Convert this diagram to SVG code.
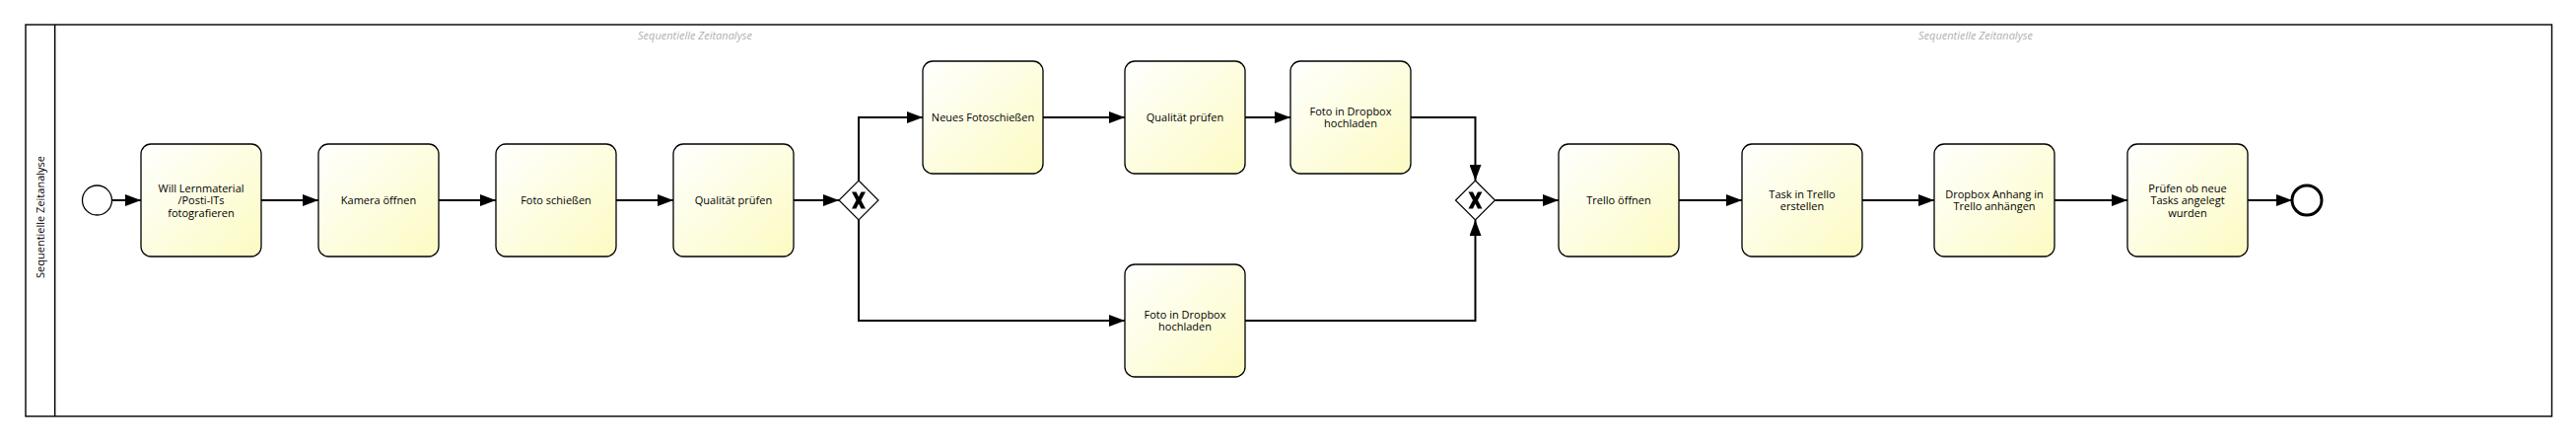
<svg xmlns="http://www.w3.org/2000/svg" width="2613" height="447" viewBox="0 0 2613 447">
<style>
.pool{fill:#ffffff;stroke:#000;stroke-width:1.4}
.task{fill:url(#tg);stroke:#000;stroke-width:1.3}
.lbl{font-family:"Open Sans","DejaVu Sans",sans-serif;font-size:11px;fill:#000;text-anchor:middle}
.hdr{font-family:"Open Sans","DejaVu Sans",sans-serif;font-size:11px;font-style:italic;fill:#b0b0b0;text-anchor:middle}
.edge{fill:none;stroke:#000;stroke-width:2;marker-end:url(#arr)}
.gw{fill:#fff;stroke:#000;stroke-width:1.2}
.gwx{fill:#000}
</style>
<defs>
<linearGradient id="tg" x1="0" y1="0" x2="1" y2="1">
<stop offset="0" stop-color="#ffffff"/>
<stop offset="1" stop-color="#fcfbc2"/>
</linearGradient>
<marker id="arr" markerUnits="userSpaceOnUse" markerWidth="16" markerHeight="12" refX="16" refY="6" orient="auto">
<path d="M0,0 L16,6 L0,12 Z" fill="#000"/>
</marker>
</defs>
<rect width="2613" height="447" fill="#fff"/>
<g id="pool">
<rect class="pool" x="26" y="25" width="2562.5" height="397"/>
<line x1="55.7" y1="25" x2="55.7" y2="422" stroke="#000" stroke-width="1.4"/>
<text class="lbl" transform="translate(44.5,220) rotate(-90)">Sequentielle Zeitanalyse</text>
<text class="hdr" x="705" y="40">Sequentielle Zeitanalyse</text>
<text class="hdr" x="2004" y="40">Sequentielle Zeitanalyse</text>
</g>
<g id="connectors">
<path class="edge" d="M113.5,203 H143"/>
<path class="edge" d="M265,203 H323"/>
<path class="edge" d="M445,203 H503"/>
<path class="edge" d="M625,203 H683"/>
<path class="edge" d="M805,203 H851"/>
<path class="edge" d="M871,183 V119 H936"/>
<path class="edge" d="M871,223 V325 H1141"/>
<path class="edge" d="M1058,119 H1141"/>
<path class="edge" d="M1263,119 H1309"/>
<path class="edge" d="M1431,119 H1496.5 V183"/>
<path class="edge" d="M1263,325 H1496.5 V223"/>
<path class="edge" d="M1516.5,203 H1581"/>
<path class="edge" d="M1703,203 H1767"/>
<path class="edge" d="M1889,203 H1962"/>
<path class="edge" d="M2084,203 H2158"/>
<path class="edge" d="M2280,203 H2325"/>
</g>
<g id="start"><circle cx="98.5" cy="203" r="15" fill="#fff" stroke="#000" stroke-width="1.3"/></g>
<g id="end"><circle cx="2340" cy="203" r="15" fill="#fff" stroke="#000" stroke-width="3"/></g>
<g id="t1"><rect class="task" x="143" y="146" width="122" height="114" rx="10"/>
<text class="lbl" x="204" y="195">Will Lernmaterial</text><text class="lbl" x="204" y="207.3">/Posti-ITs</text><text class="lbl" x="204" y="219.6">fotografieren</text></g>
<g id="t2"><rect class="task" x="323" y="146" width="122" height="114" rx="10"/>
<text class="lbl" x="384" y="207">Kamera öffnen</text></g>
<g id="t3"><rect class="task" x="503" y="146" width="122" height="114" rx="10"/>
<text class="lbl" x="564" y="207">Foto schießen</text></g>
<g id="t4"><rect class="task" x="683" y="146" width="122" height="114" rx="10"/>
<text class="lbl" x="744" y="207">Qualität prüfen</text></g>
<g id="gw1"><path class="gw" d="M871,183 L891,203 L871,223 L851,203 Z"/>
<path class="gwx" d="M864,194.5 H868.5 L871,199.5 L873.5,194.5 H878 L873.5,203 L878,211.5 H873.5 L871,206.5 L868.5,211.5 H864 L868.5,203 Z"/></g>
<g id="t5"><rect class="task" x="936" y="62" width="122" height="114" rx="10"/>
<text class="lbl" x="997" y="123">Neues Fotoschießen</text></g>
<g id="t6"><rect class="task" x="1141" y="62" width="122" height="114" rx="10"/>
<text class="lbl" x="1202" y="123">Qualität prüfen</text></g>
<g id="t7"><rect class="task" x="1309" y="62" width="122" height="114" rx="10"/>
<text class="lbl" x="1370" y="117">Foto in Dropbox</text><text class="lbl" x="1370" y="129.3">hochladen</text></g>
<g id="t8"><rect class="task" x="1141" y="268" width="122" height="114" rx="10"/>
<text class="lbl" x="1202" y="323">Foto in Dropbox</text><text class="lbl" x="1202" y="335.3">hochladen</text></g>
<g id="gw2"><path class="gw" d="M1496.5,183 L1516.5,203 L1496.5,223 L1476.5,203 Z"/>
<path class="gwx" d="M1489.5,194.5 H1494 L1496.5,199.5 L1499,194.5 H1503.5 L1499,203 L1503.5,211.5 H1499 L1496.5,206.5 L1494,211.5 H1489.5 L1494,203 Z"/></g>
<g id="t9"><rect class="task" x="1581" y="146" width="122" height="114" rx="10"/>
<text class="lbl" x="1642" y="207">Trello öffnen</text></g>
<g id="t10"><rect class="task" x="1767" y="146" width="122" height="114" rx="10"/>
<text class="lbl" x="1828" y="201">Task in Trello</text><text class="lbl" x="1828" y="213.3">erstellen</text></g>
<g id="t11"><rect class="task" x="1962" y="146" width="122" height="114" rx="10"/>
<text class="lbl" x="2023" y="201">Dropbox Anhang in</text><text class="lbl" x="2023" y="213.3">Trello anhängen</text></g>
<g id="t12"><rect class="task" x="2158" y="146" width="122" height="114" rx="10"/>
<text class="lbl" x="2219" y="195">Prüfen ob neue</text><text class="lbl" x="2219" y="207.3">Tasks angelegt</text><text class="lbl" x="2219" y="219.6">wurden</text></g>
</svg>
